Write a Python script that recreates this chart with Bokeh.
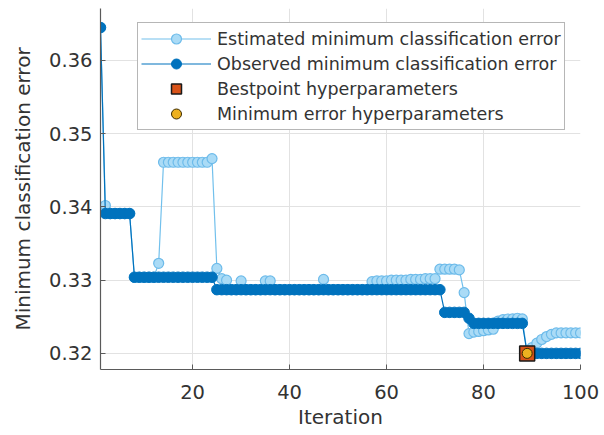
from bokeh.plotting import figure
from bokeh.models import Range1d, FixedTicker, Legend, LegendItem, ColumnDataSource
from bokeh.embed import file_html
from bokeh.resources import INLINE

# Bayesian optimisation trace: minimum classification error per iteration
iterations = list(range(1, 101))

observed_min_error = [
    0.3645, 0.3391, 0.3391, 0.3391, 0.3391, 0.3391, 0.3391, 0.3304, 0.3304, 0.3304,
    0.3304, 0.3304, 0.3304, 0.3304, 0.3304, 0.3304, 0.3304, 0.3304, 0.3304, 0.3304,
    0.3304, 0.3304, 0.3304, 0.3304, 0.3287, 0.3287, 0.3287, 0.3287, 0.3287, 0.3287,
    0.3287, 0.3287, 0.3287, 0.3287, 0.3287, 0.3287, 0.3287, 0.3287, 0.3287, 0.3287,
    0.3287, 0.3287, 0.3287, 0.3287, 0.3287, 0.3287, 0.3287, 0.3287, 0.3287, 0.3287,
    0.3287, 0.3287, 0.3287, 0.3287, 0.3287, 0.3287, 0.3287, 0.3287, 0.3287, 0.3287,
    0.3287, 0.3287, 0.3287, 0.3287, 0.3287, 0.3287, 0.3287, 0.3287, 0.3287, 0.3287,
    0.3287, 0.3256, 0.3256, 0.3256, 0.3256, 0.3256, 0.3248, 0.3241, 0.3241, 0.3241,
    0.3241, 0.3241, 0.3241, 0.3241, 0.3241, 0.3241, 0.3241, 0.3241, 0.3200, 0.3200,
    0.3200, 0.3200, 0.3200, 0.3200, 0.3200, 0.3200, 0.3200, 0.3200, 0.3200, 0.3200,
]

estimated_min_error = [
    0.3645, 0.3402, 0.3391, 0.3391, 0.3391, 0.3391, 0.3391, 0.3304, 0.3304, 0.3304,
    0.3304, 0.3304, 0.3323, 0.3461, 0.3461, 0.3461, 0.3461, 0.3461, 0.3461, 0.3461,
    0.3461, 0.3461, 0.3461, 0.3466, 0.3316, 0.3302, 0.3300, 0.3287, 0.3287, 0.3299,
    0.3287, 0.3287, 0.3287, 0.3287, 0.3299, 0.3299, 0.3287, 0.3287, 0.3287, 0.3287,
    0.3287, 0.3287, 0.3287, 0.3287, 0.3287, 0.3287, 0.3301, 0.3287, 0.3287, 0.3287,
    0.3287, 0.3287, 0.3287, 0.3287, 0.3287, 0.3287, 0.3298, 0.3299, 0.3299, 0.3299,
    0.3300, 0.3300, 0.3300, 0.3300, 0.3301, 0.3301, 0.3301, 0.3302, 0.3302, 0.3302,
    0.3315, 0.3315, 0.3315, 0.3315, 0.3314, 0.3283, 0.3227, 0.3229, 0.3230, 0.3231,
    0.3232, 0.3233, 0.3244, 0.3246, 0.3247, 0.3247, 0.3248, 0.3247, 0.3200, 0.3208,
    0.3214, 0.3219, 0.3223, 0.3226, 0.3228, 0.3228, 0.3228, 0.3228, 0.3228, 0.3228,
]

best_iteration = [89]
best_error = [0.3200]
min_error_iteration = [89]
min_error_value = [0.3200]

x_ticks = [20, 40, 60, 80, 100]
y_ticks = [0.32, 0.33, 0.34, 0.35, 0.36]
y_tick_labels = ["0.32", "0.33", "0.34", "0.35", "0.36"]

FONT = "DejaVu Sans"
TEXT = "#333333"

trace = ColumnDataSource(dict(it=iterations, obs=observed_min_error, est=estimated_min_error))

p = figure(
    width=604, height=435,
    output_backend="svg", toolbar_location=None,
    x_range=Range1d(1, 100), y_range=Range1d(0.3178, 0.3671),
    min_border_left=100, min_border_right=24, min_border_top=8, min_border_bottom=66,
)
p.outline_line_color = None
p.background_fill_color = "white"
p.border_fill_color = "white"

# estimated trace (drawn first, beneath the observed one)
est_line = p.line("it", "est", source=trace, line_color="#72C0EC", line_width=1.2)
est_pts = p.scatter("it", "est", source=trace, size=10, marker="circle",
                    fill_color="#AADBF6", line_color="#6DBBEA", line_width=1.2)

# observed trace
obs_line = p.line("it", "obs", source=trace, line_color="#0072BD", line_width=1.2)
obs_pts = p.scatter("it", "obs", source=trace, size=10.5, marker="circle",
                    fill_color="#0072BD", line_color="#0072BD", line_width=1)

best = p.scatter(best_iteration, best_error, marker="square", size=15,
                 fill_color="#D95319", line_color="#1a1a1a", line_width=1.5)
minerr = p.scatter(min_error_iteration, min_error_value, marker="circle", size=10,
                   fill_color="#EDB120", line_color="#3a2a00", line_width=1)

# axes
for ax in (p.xaxis[0], p.yaxis[0]):
    ax.axis_line_color = "#5a5a5a"
    ax.axis_line_width = 1.2
    ax.major_tick_line_color = "#5a5a5a"
    ax.major_tick_in = 5
    ax.major_tick_out = 0
    ax.minor_tick_line_color = None
    ax.major_label_text_font = FONT
    ax.major_label_text_font_size = "19.5px"
    ax.major_label_text_color = TEXT
    ax.axis_label_text_font = FONT
    ax.axis_label_text_font_size = "20px"
    ax.axis_label_text_font_style = "normal"
    ax.axis_label_text_color = TEXT

p.xaxis.ticker = FixedTicker(ticks=x_ticks)
p.yaxis.ticker = FixedTicker(ticks=y_ticks)
p.yaxis.major_label_overrides = dict(zip(y_ticks, y_tick_labels))
p.xaxis.axis_label = "Iteration"
p.yaxis.axis_label = "Minimum classification error"
p.xaxis.major_label_standoff = 15
p.yaxis.major_label_standoff = 8
p.xaxis.axis_label_standoff = 3
p.yaxis.axis_label_standoff = 11

p.xgrid.grid_line_color = "#E2E2E2"
p.ygrid.grid_line_color = "#E2E2E2"

legend = Legend(
    items=[
        LegendItem(label="Estimated minimum classification error", renderers=[est_line, est_pts]),
        LegendItem(label="Observed minimum classification error", renderers=[obs_line, obs_pts]),
        LegendItem(label="Bestpoint hyperparameters", renderers=[best]),
        LegendItem(label="Minimum error hyperparameters", renderers=[minerr]),
    ],
    location=(37, 239),
    margin=0,
    padding=3,
    spacing=0,
    glyph_width=70,
    glyph_height=25,
    label_height=25,
    label_standoff=6,
    label_text_font=FONT,
    label_text_font_size="17.5px",
    label_text_color=TEXT,
    border_line_color="#6e6e6e",
    border_line_width=1,
    background_fill_color="white",
    background_fill_alpha=1.0,
)
p.add_layout(legend)

open("out.html", "w").write(file_html(p, INLINE))
